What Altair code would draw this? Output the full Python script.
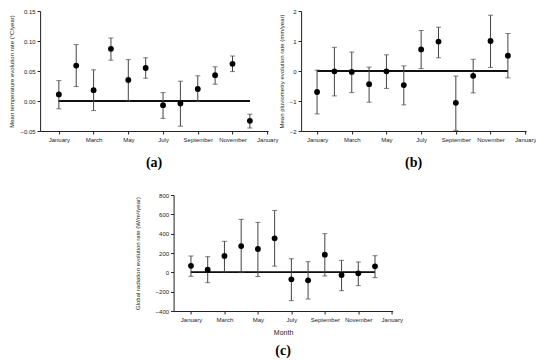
import altair as alt
import pandas as pd

months = list(range(1, 13))
tick_values = [1, 3, 5, 7, 9, 11, 13]
tick_labels = ["January", "March", "May", "July", "September", "November", "January"]

temp = [0.011, 0.059, 0.018, 0.087, 0.035, 0.055, -0.007, -0.004, 0.020, 0.043, 0.062, -0.033]
temp_lo = [-0.013, 0.024, -0.016, 0.068, 0.000, 0.038, -0.029, -0.042, -0.001, 0.028, 0.049, -0.045]
temp_hi = [0.034, 0.094, 0.052, 0.105, 0.069, 0.072, 0.014, 0.033, 0.042, 0.057, 0.075, -0.022]

pluv = [-0.70, -0.01, -0.03, -0.44, -0.01, -0.47, 0.72, 0.98, -1.06, -0.16, 1.00, 0.51]
pluv_lo = [-1.43, -0.83, -0.72, -1.04, -0.58, -1.13, 0.08, 0.44, -1.98, -0.73, 0.12, -0.23]
pluv_hi = [0.03, 0.79, 0.63, 0.13, 0.54, 0.17, 1.35, 1.46, -0.17, 0.39, 1.86, 1.25]

rad = [67, 28, 169, 272, 241, 352, -72, -83, 183, -28, -10, 62]
rad_lo = [-41, -107, 5, -3, -43, 64, -293, -276, -38, -190, -138, -55]
rad_hi = [169, 162, 321, 548, 517, 640, 141, 110, 400, 124, 107, 172]

label_expr = "[" + ",".join("'%s'" % t for t in tick_labels) + "][(datum.value - 1) / 2]"

FONT = "Liberation Sans"
INK = "#222"


def panel(vals, lo, hi, ydom, yticks, yfmt, ytitle, xdom, w, h, label, ypad,
          toff, xtitle=None):
    df = pd.DataFrame({"month": months, "v": vals, "lo": lo, "hi": hi})
    xscale = alt.Scale(domain=xdom, nice=False, zero=False)
    yscale = alt.Scale(domain=ydom, nice=False, zero=False)
    common = dict(grid=False, tickSize=3, labelPadding=2, labelFont=FONT, titleFont=FONT,
                  labelFontSize=6, labelColor=INK, titleColor=INK, domainColor=INK,
                  tickColor=INK, domainWidth=1, tickWidth=1, titleFontWeight="normal",
                  labelFlush=False)
    xaxis = alt.Axis(values=tick_values, labelExpr=label_expr, title=xtitle,
                     titleFontSize=7, titlePadding=6, labelOverlap=False, **common)
    yaxis = alt.Axis(values=yticks, format=yfmt, title=ytitle,
                     titleFontSize=6, titlePadding=ypad, **common)
    base = alt.Chart(df)
    zero = base.mark_rule(color="#111", strokeWidth=0.7).encode(
        x=alt.datum(1, scale=xscale, axis=xaxis, type="quantitative"),
        x2=alt.datum(12),
        y=alt.datum(0, scale=yscale, axis=yaxis, type="quantitative"),
    )
    err = base.mark_errorbar(color="#444", thickness=1, ticks=alt.MarkConfig(size=5, color="#444")).encode(
        x=alt.X("month:Q", scale=xscale, axis=xaxis),
        y=alt.Y("lo:Q", scale=yscale, axis=yaxis),
        y2="hi:Q",
    )
    pts = base.mark_circle(color="black", size=34, opacity=1).encode(
        x=alt.X("month:Q", scale=xscale, axis=xaxis),
        y=alt.Y("v:Q", scale=yscale, axis=yaxis),
    )
    return alt.layer(zero, err, pts).properties(
        width=w, height=h,
        title=alt.TitleParams(label, orient="bottom", font="Liberation Serif",
                              fontWeight="bold", fontSize=14, offset=toff, color="black"),
    )


a = panel(temp, temp_lo, temp_hi, [-0.05, 0.15], [-0.05, 0, 0.05, 0.10, 0.15], ".2f",
          "Mean temperature evolution rate (°C/year)", [-0.08, 13.05], 228, 120, "(a)", 5, 14)
b = panel(pluv, pluv_lo, pluv_hi, [-2, 2], [-2, -1, 0, 1, 2], "d",
          "Mean pluviometry evolution rate (mm/year)", [0.08, 13.05], 225, 120, "(b)", 5, 14)
c = panel(rad, rad_lo, rad_hi, [-400, 800], [-400, -200, 0, 200, 400, 600, 800], "d",
          "Global radiation evolution rate (W/m²/year)", [-0.04, 13.05], 219, 116, "(c)", 15, 9,
          xtitle="Month")

top = alt.hconcat(a, b, spacing=0)
chart = alt.vconcat(top, c, spacing=22, center=True).properties(
    padding=0, background="white"
).configure_view(stroke=None)

chart.save("out.html", embed_options={"renderer": "svg", "actions": False})
